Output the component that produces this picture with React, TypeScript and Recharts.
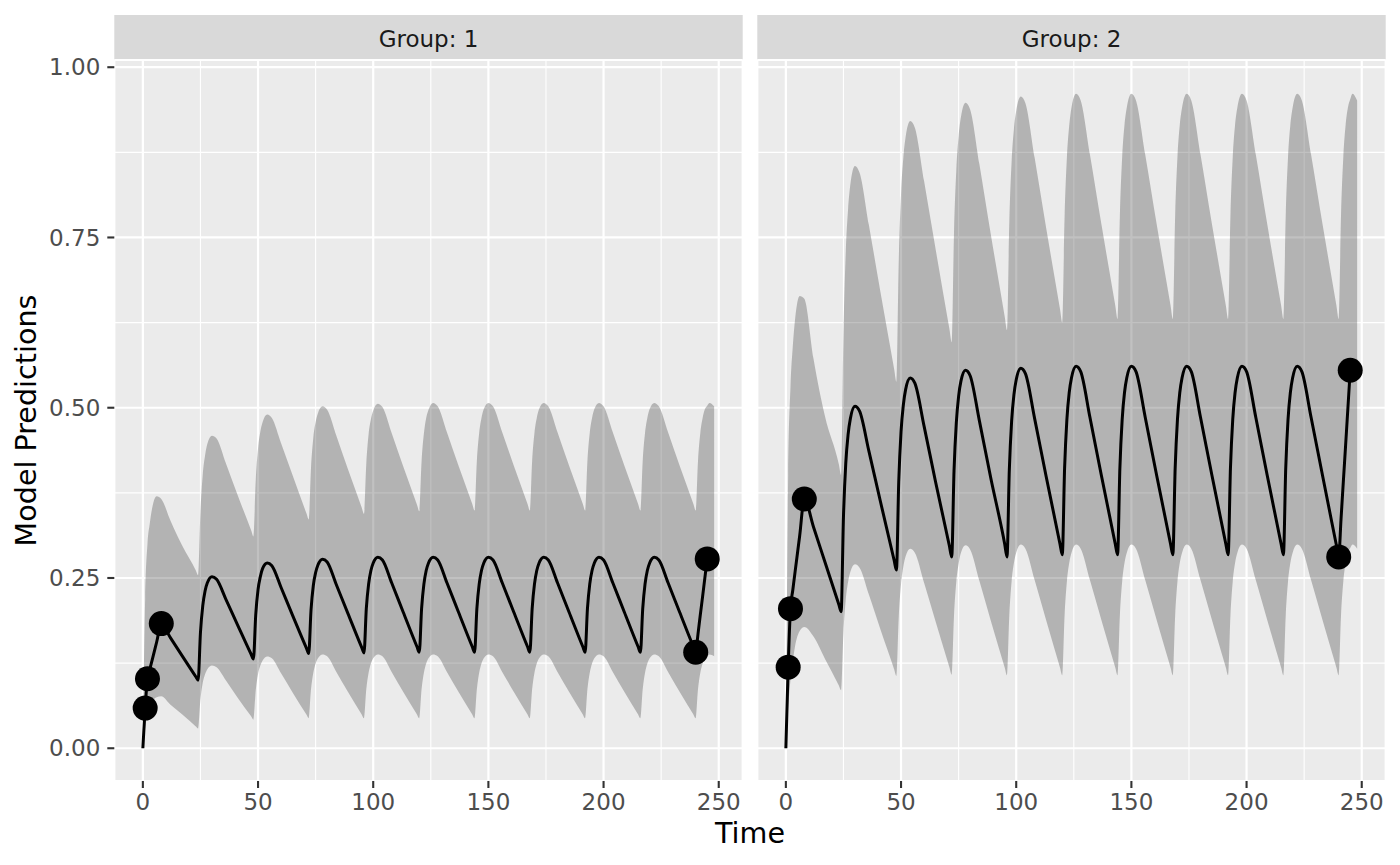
import React from "react";
import { Area, CartesianGrid, ComposedChart, Line, Scatter, XAxis, YAxis } from "recharts";

// time grid (h): one dosing interval = 24 h
const times = [
  0, 1, 2, 3, 4, 6, 8, 12, 17, 23,
  24, 25, 26, 27, 28, 30, 32, 36, 41, 47,
  48, 49, 50, 51, 52, 54, 56, 60, 65, 71,
  72, 73, 74, 75, 76, 78, 80, 84, 89, 95,
  96, 97, 98, 99, 100, 102, 104, 108, 113, 119,
  120, 121, 122, 123, 124, 126, 128, 132, 137, 143,
  144, 145, 146, 147, 148, 150, 152, 156, 161, 167,
  168, 169, 170, 171, 172, 174, 176, 180, 185, 191,
  192, 193, 194, 195, 196, 198, 200, 204, 209, 215,
  216, 217, 218, 219, 220, 222, 224, 228, 233, 239,
  240, 241, 242, 243, 244, 245, 246, 248,
];

// group 1
const g1Pred = [
  0, 0.06, 0.102, 0.116, 0.129, 0.156, 0.183, 0.162, 0.136, 0.105,
  0.1, 0.17, 0.209, 0.231, 0.243, 0.252, 0.248, 0.219, 0.182, 0.138,
  0.131, 0.196, 0.233, 0.252, 0.264, 0.272, 0.268, 0.236, 0.195, 0.147,
  0.139, 0.203, 0.239, 0.258, 0.269, 0.2776, 0.2735, 0.24, 0.198, 0.148,
  0.14, 0.205, 0.241, 0.261, 0.272, 0.2805, 0.2765, 0.243, 0.2, 0.149,
  0.141, 0.205, 0.241, 0.261, 0.272, 0.2805, 0.2765, 0.243, 0.2, 0.149,
  0.141, 0.205, 0.241, 0.261, 0.272, 0.2805, 0.2765, 0.243, 0.2, 0.149,
  0.141, 0.205, 0.241, 0.261, 0.272, 0.2805, 0.2765, 0.243, 0.2, 0.149,
  0.141, 0.205, 0.241, 0.261, 0.272, 0.2805, 0.2765, 0.243, 0.2, 0.149,
  0.141, 0.205, 0.241, 0.261, 0.272, 0.2805, 0.2765, 0.243, 0.2, 0.149,
  0.141, 0.168, 0.196, 0.223, 0.251, 0.278, null, null,
];
const g1Lo = [
  0, 0.03, 0.05, 0.06, 0.068, 0.075, 0.0765, 0.064, 0.05, 0.032,
  0.029, 0.072, 0.096, 0.1085, 0.116, 0.1214, 0.119, 0.1, 0.075, 0.0468,
  0.042, 0.085, 0.109, 0.1216, 0.129, 0.1346, 0.132, 0.11, 0.082, 0.0494,
  0.044, 0.087, 0.111, 0.1245, 0.132, 0.1376, 0.135, 0.112, 0.083, 0.0496,
  0.044, 0.087, 0.111, 0.1245, 0.132, 0.1376, 0.135, 0.112, 0.083, 0.0496,
  0.044, 0.087, 0.111, 0.1245, 0.132, 0.1376, 0.135, 0.112, 0.083, 0.0496,
  0.044, 0.087, 0.111, 0.1245, 0.132, 0.1376, 0.135, 0.112, 0.083, 0.0496,
  0.044, 0.087, 0.111, 0.1245, 0.132, 0.1376, 0.135, 0.112, 0.083, 0.0496,
  0.044, 0.087, 0.111, 0.1245, 0.132, 0.1376, 0.135, 0.112, 0.083, 0.0496,
  0.044, 0.087, 0.111, 0.1245, 0.132, 0.1376, 0.135, 0.112, 0.083, 0.0496,
  0.044, 0.087, 0.111, 0.1245, 0.132, 0.135, 0.1376, 0.135,
];
const g1Hi = [
  0, 0.22, 0.3, 0.33, 0.352, 0.37, 0.366, 0.334, 0.298, 0.261,
  0.254, 0.348, 0.402, 0.43, 0.447, 0.459, 0.455, 0.419, 0.373, 0.32,
  0.311, 0.393, 0.44, 0.465, 0.479, 0.49, 0.485, 0.448, 0.401, 0.345,
  0.336, 0.412, 0.456, 0.479, 0.492, 0.502, 0.497, 0.459, 0.41, 0.3535,
  0.344, 0.418, 0.461, 0.483, 0.496, 0.506, 0.501, 0.463, 0.414, 0.3575,
  0.348, 0.421, 0.462, 0.485, 0.497, 0.507, 0.502, 0.464, 0.415, 0.3585,
  0.349, 0.422, 0.463, 0.485, 0.498, 0.507, 0.502, 0.464, 0.415, 0.3585,
  0.349, 0.422, 0.463, 0.485, 0.498, 0.507, 0.502, 0.464, 0.415, 0.3585,
  0.349, 0.422, 0.463, 0.485, 0.498, 0.507, 0.502, 0.464, 0.415, 0.3585,
  0.349, 0.422, 0.463, 0.485, 0.498, 0.507, 0.502, 0.464, 0.415, 0.3585,
  0.349, 0.422, 0.463, 0.485, 0.498, 0.503, 0.507, 0.502,
];

// group 2
const g2Pred = [
  0, 0.119, 0.205, 0.232, 0.259, 0.312, 0.366, 0.325, 0.273, 0.211,
  0.2006, 0.339, 0.418, 0.46, 0.484, 0.502, 0.495, 0.437, 0.363, 0.276,
  0.2616, 0.391, 0.465, 0.504, 0.527, 0.5436, 0.536, 0.473, 0.391, 0.297,
  0.281, 0.407, 0.478, 0.517, 0.539, 0.555, 0.547, 0.481, 0.396, 0.3,
  0.281, 0.408, 0.48, 0.519, 0.541, 0.558, 0.55, 0.484, 0.399, 0.3,
  0.284, 0.411, 0.483, 0.522, 0.544, 0.561, 0.553, 0.486, 0.4, 0.3,
  0.284, 0.411, 0.483, 0.522, 0.544, 0.561, 0.553, 0.486, 0.4, 0.3,
  0.284, 0.411, 0.483, 0.522, 0.544, 0.561, 0.553, 0.486, 0.4, 0.3,
  0.284, 0.411, 0.483, 0.522, 0.544, 0.561, 0.553, 0.486, 0.4, 0.3,
  0.284, 0.411, 0.483, 0.522, 0.544, 0.561, 0.553, 0.486, 0.4, 0.298,
  0.281, 0.336, 0.391, 0.445, 0.5, 0.555, null, null,
];
const g2Lo = [
  0, 0.06, 0.1, 0.127, 0.15, 0.172, 0.178, 0.164, 0.131, 0.092,
  0.085, 0.17, 0.218, 0.244, 0.259, 0.27, 0.265, 0.226, 0.175, 0.116,
  0.106, 0.192, 0.241, 0.267, 0.282, 0.293, 0.287, 0.243, 0.186, 0.119,
  0.108, 0.195, 0.245, 0.271, 0.287, 0.298, 0.292, 0.246, 0.187, 0.1185,
  0.107, 0.195, 0.245, 0.272, 0.287, 0.299, 0.293, 0.247, 0.188, 0.1185,
  0.107, 0.195, 0.245, 0.272, 0.287, 0.299, 0.293, 0.247, 0.188, 0.1185,
  0.107, 0.195, 0.245, 0.272, 0.287, 0.299, 0.293, 0.247, 0.188, 0.1185,
  0.107, 0.195, 0.245, 0.272, 0.287, 0.299, 0.293, 0.247, 0.188, 0.1185,
  0.107, 0.195, 0.245, 0.272, 0.287, 0.299, 0.293, 0.247, 0.188, 0.1185,
  0.107, 0.195, 0.245, 0.272, 0.287, 0.299, 0.293, 0.247, 0.188, 0.1185,
  0.107, 0.195, 0.245, 0.272, 0.287, 0.294, 0.299, 0.293,
];
const g2Hi = [
  0, 0.4, 0.53, 0.59, 0.63, 0.664, 0.66, 0.572, 0.487, 0.417,
  0.401, 0.61, 0.728, 0.791, 0.828, 0.855, 0.845, 0.769, 0.671, 0.557,
  0.538, 0.714, 0.814, 0.867, 0.898, 0.921, 0.911, 0.833, 0.733, 0.6155,
  0.596, 0.758, 0.849, 0.899, 0.927, 0.948, 0.938, 0.858, 0.754, 0.634,
  0.614, 0.772, 0.861, 0.909, 0.936, 0.957, 0.947, 0.867, 0.764, 0.645,
  0.625, 0.78, 0.867, 0.914, 0.941, 0.961, 0.951, 0.872, 0.769, 0.65,
  0.63, 0.782, 0.868, 0.915, 0.941, 0.961, 0.951, 0.872, 0.769, 0.65,
  0.63, 0.782, 0.868, 0.915, 0.941, 0.961, 0.951, 0.872, 0.769, 0.65,
  0.63, 0.782, 0.868, 0.915, 0.941, 0.961, 0.951, 0.872, 0.769, 0.65,
  0.63, 0.782, 0.868, 0.915, 0.941, 0.961, 0.951, 0.872, 0.769, 0.65,
  0.63, 0.782, 0.868, 0.915, 0.941, 0.953, 0.961, 0.951,
];

// observations
const obsTimes = [1, 2, 8, 240, 245];
const g1Obs = [0.059, 0.102, 0.183, 0.141, 0.278];
const g2Obs = [0.119, 0.205, 0.366, 0.281, 0.555];

const xTicks = [0, 50, 100, 150, 200, 250];
const xMinor = [25, 75, 125, 175, 225];
const yTicks = [0, 0.25, 0.5, 0.75, 1];
const yMinor = [0.125, 0.375, 0.625, 0.875];
const panelLabels = ["Group: 1", "Group: 2"];

const X_DOMAIN = [-12.4, 260.4];
const Y_DOMAIN = [-0.0481, 1.0106];
const FONT = "'DejaVu Sans', sans-serif";

const tickLine = { stroke: "#333333", strokeWidth: 2.1 };
const tickText = { fill: "#4D4D4D", fontSize: 23, fontFamily: FONT };

const Dot = (props: any) => <circle cx={props.cx} cy={props.cy} r={12.5} fill="#000000" />;

function Panel({ pred, lo, hi, obs, showY, left, width, mLeft, mRight }: any) {
  const rows = times.map((t, i) => ({ t, pred: pred[i], band: [lo[i], hi[i]] }));
  const points = obsTimes.map((t, i) => ({ t, obs: obs[i] }));

  return (
    <div style={{ position: "absolute", left, top: 0 }}>
      <ComposedChart
        width={width}
        height={865}
        data={rows}
        margin={{ top: 60, right: mRight, bottom: 34, left: mLeft }}
      >
        <CartesianGrid fill="#EBEBEB" stroke="#FFFFFF" strokeWidth={2.2} />
        <CartesianGrid xAxisId="minor" yAxisId="minor" stroke="#FFFFFF" strokeWidth={1.1} />
        <XAxis
          dataKey="t"
          type="number"
          domain={X_DOMAIN}
          ticks={xTicks}
          interval={0}
          allowDataOverflow
          height={50}
          axisLine={false}
          tickLine={tickLine}
          tickSize={7}
          tickMargin={6}
          tick={tickText}
        />
        <XAxis xAxisId="minor" dataKey="t" type="number" domain={X_DOMAIN} ticks={xMinor} interval={0} allowDataOverflow hide />
        <YAxis
          type="number"
          domain={Y_DOMAIN}
          ticks={yTicks}
          interval={0}
          allowDataOverflow
          hide={!showY}
          width={114.3}
          axisLine={false}
          tickLine={tickLine}
          tickSize={7}
          tickMargin={7}
          tick={tickText}
          tickFormatter={(v: number) => v.toFixed(2)}
        />
        <YAxis yAxisId="minor" type="number" domain={Y_DOMAIN} ticks={yMinor} interval={0} allowDataOverflow hide />
        <Area
          dataKey="band"
          type="monotoneX"
          stroke="none"
          fill="#333333"
          fillOpacity={0.3}
          isAnimationActive={false}
        />
        <Line
          dataKey="pred"
          type="monotoneX"
          stroke="#000000"
          strokeWidth={3}
          dot={false}
          connectNulls
          isAnimationActive={false}
        />
        <Scatter data={points} dataKey="obs" fill="#000000" shape={Dot} isAnimationActive={false} />
      </ComposedChart>
    </div>
  );
}

export default function App() {
  return (
    <div style={{ position: "absolute", left: 0, top: 0, width: 1400, height: 865, background: "#FFFFFF", fontFamily: FONT }}>
      <svg width={1400} height={865} style={{ position: "absolute", left: 0, top: 0 }}>
        <rect x={114.3} y={15} width={628.4} height={45} fill="#D9D9D9" />
        <rect x={757.3} y={15} width={628.4} height={45} fill="#D9D9D9" />
        <text x={428.5} y={46.5} textAnchor="middle" fontSize={23} fill="#1A1A1A" fontFamily={FONT}>
          {panelLabels[0]}
        </text>
        <text x={1071.5} y={46.5} textAnchor="middle" fontSize={23} fill="#1A1A1A" fontFamily={FONT}>
          {panelLabels[1]}
        </text>
        <text x={750} y={843.3} textAnchor="middle" fontSize={28.6} fill="#000000" fontFamily={FONT}>
          Time
        </text>
        <text
          transform="translate(35.5,420.5) rotate(-90)"
          textAnchor="middle"
          fontSize={28.6}
          fill="#000000"
          fontFamily={FONT}
        >
          Model Predictions
        </text>
      </svg>
      <Panel pred={g1Pred} lo={g1Lo} hi={g1Hi} obs={g1Obs} showY left={0} width={750} mLeft={0} mRight={7.3} />
      <Panel pred={g2Pred} lo={g2Lo} hi={g2Hi} obs={g2Obs} showY={false} left={750} width={650} mLeft={7.3} mRight={14.3} />
    </div>
  );
}
